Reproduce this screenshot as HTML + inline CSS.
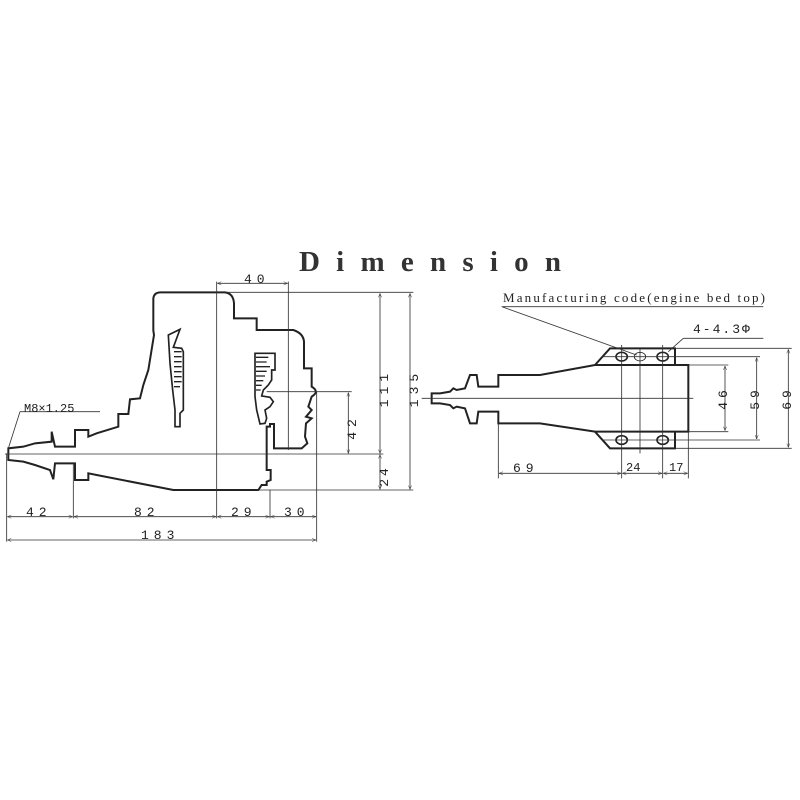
<!DOCTYPE html>
<html><head><meta charset="utf-8"><style>
html,body{margin:0;padding:0;background:#fff}
svg{display:block}
text{font-family:"Liberation Mono",monospace;fill:#222}
</style></head><body>
<svg width="800" height="800" viewBox="0 0 800 800" xmlns="http://www.w3.org/2000/svg">
<defs>
<marker id="a" viewBox="0 0 10 10" refX="10" refY="5" markerWidth="12" markerHeight="12" orient="auto-start-reverse" markerUnits="userSpaceOnUse"><path d="M0,1 L10,5 L0,9" fill="none" stroke="#333" stroke-width="1.2"/></marker>
</defs>
<rect width="800" height="800" fill="#fff"/>
<text x="299" y="271" font-family="Liberation Serif,serif" font-size="29" font-weight="bold" textLength="262" lengthAdjust="spacing" style="font-family:'Liberation Serif',serif;fill:#333">Dimension</text>

<!-- LEFT VIEW -->
<g transform="translate(0,270) scale(0.33333)" fill="none" stroke="#222">
<path stroke-width="6" d="M480,67 L675,67 Q700,70 702,100 L702,145 L770,145 L770,180 L880,180 Q910,190 912,215 L912,295 L935,295 L935,350 Q960,365 935,380 L930,395 L925,410 L935,420 L918,440 L935,445 L918,460 L915,500 L922,520 L905,535 L822,535 L822,462 L810,462 L810,470 L800,470 L800,600 L812,600 L812,630 L800,635 L800,645 L785,645 L775,660 L520,660 L290,615 L265,610 L265,630 L225,630 L225,580 L165,580 L160,628 L150,600 L105,585 L70,575 L25,570 L25,535 L70,530 L105,520 L155,515 L155,485 L165,530 L225,530 L225,480 L265,480 L265,500 L290,490 L355,470 L355,432 L385,432 L390,388 L420,385 L430,345 L445,300 L462,195 L460,182 L460,85 Q462,68 480,67 Z"/>
<path stroke-width="5" d="M505,195 L540,178 L520,232 L545,235 L550,245 L550,420 L540,430 L540,470 L525,470 L525,420 L518,360 L510,280 Z"/>
<path stroke-width="4" d="M522,245 L545,245 M522,260 L545,260 M522,275 L545,275 M522,290 L545,290 M522,305 L545,305 M522,320 L545,320 M522,335 L545,335 M522,350 L540,350" />
<path stroke-width="5" d="M765,250 L825,250 L825,300 L815,300 L815,330 L805,345 L790,360 L785,378 L810,382 L820,395 L810,410 L795,420 L800,445 L795,460 L780,462 L770,420 L765,380 Z"/>
<path stroke-width="4" d="M768,262 L805,262 M768,276 L800,276 M768,290 L810,290 M768,304 L800,304 M768,318 L795,318 M768,332 L790,332 M768,346 L785,346 M768,360 L782,360"/>
<!-- dimension lines -->
<g stroke-width="2.5" stroke="#333">
<path d="M15,552 L1150,552 M680,67 L1240,67 M770,660 L1240,660 M800,365 L1055,365"/>
<path d="M650,35 L650,745 M865,35 L865,540 M20,550 L20,815 M220,580 L220,745 M810,660 L810,745 M950,365 L950,815"/>
<path d="M60,425 L300,425 M60,425 L25,535"/>
<path marker-start="url(#a)" marker-end="url(#a)" d="M652,40 L863,40"/>
<path marker-start="url(#a)" marker-end="url(#a)" d="M1140,70 L1140,550"/>
<path marker-start="url(#a)" marker-end="url(#a)" d="M1230,70 L1230,658"/>
<path marker-start="url(#a)" marker-end="url(#a)" d="M1045,368 L1045,550"/>
<path marker-start="url(#a)" marker-end="url(#a)" d="M1140,554 L1140,658"/>
<path marker-start="url(#a)" marker-end="url(#a)" d="M22,740 L218,740"/>
<path marker-start="url(#a)" marker-end="url(#a)" d="M222,740 L648,740"/>
<path marker-start="url(#a)" marker-end="url(#a)" d="M652,740 L808,740"/>
<path marker-start="url(#a)" marker-end="url(#a)" d="M812,740 L948,740"/>
<path marker-start="url(#a)" marker-end="url(#a)" d="M22,810 L948,810"/>
</g>
</g>
<g font-size="13">
<text x="244" y="283" letter-spacing="5">40</text>
<text x="24" y="412" font-size="12">M8×1.25</text>
<text x="26" y="516" letter-spacing="5">42</text>
<text x="134" y="516" letter-spacing="5">82</text>
<text x="231" y="516" letter-spacing="5">29</text>
<text x="284" y="516" letter-spacing="5">30</text>
<text x="141" y="539" letter-spacing="5">183</text>
<text transform="translate(388,388) rotate(-90)" letter-spacing="5" text-anchor="middle">111</text>
<text transform="translate(418,388) rotate(-90)" letter-spacing="5" text-anchor="middle">135</text>
<text transform="translate(356,427) rotate(-90)" letter-spacing="5" text-anchor="middle">42</text>
<text transform="translate(388,476) rotate(-90)" letter-spacing="3" text-anchor="middle">24</text>
</g>

<!-- RIGHT VIEW -->
<g transform="translate(420,280) scale(0.33333)" fill="none" stroke="#222">
<path stroke-width="6" d="M805,255 L805,455 L525,455 L360,430 L235,430 L235,395 L175,395 L170,430 L150,430 L135,385 L110,380 L100,385 L90,375 L60,370 L35,370 L35,340 L60,340 L90,335 L100,325 L110,330 L135,325 L150,285 L170,285 L175,320 L235,320 L235,285 L360,285 L525,255 Z"/>
<path stroke-width="6" d="M525,255 L570,205 L765,205 L765,255 M525,455 L570,505 L765,505 L765,455"/>
<g stroke-width="5"><ellipse cx="605" cy="230" rx="17" ry="13"/><ellipse cx="728" cy="230" rx="17" ry="13"/><ellipse cx="605" cy="480" rx="17" ry="13"/><ellipse cx="728" cy="480" rx="17" ry="13"/></g>
<ellipse cx="660" cy="230" rx="17" ry="13" stroke-width="2.5"/>
<g stroke-width="2.5" stroke="#333">
<path d="M5,355 L820,355 M545,230 L765,230 M545,480 L765,480 M765,205 L1115,205 M765,230 L1020,230 M805,255 L925,255 M805,455 L925,455 M765,480 L1020,480 M765,505 L1115,505"/>
<path d="M605,195 L605,595 M728,195 L728,595 M660,205 L660,520 M805,455 L805,595 M235,430 L235,595"/>
<path d="M245,80 L1030,80 M245,80 L650,225 M790,175 L1030,175 M790,175 L745,215"/>
<path marker-start="url(#a)" marker-end="url(#a)" d="M915,258 L915,452"/>
<path marker-start="url(#a)" marker-end="url(#a)" d="M1010,233 L1010,477"/>
<path marker-start="url(#a)" marker-end="url(#a)" d="M1105,208 L1105,502"/>
<path marker-start="url(#a)" marker-end="url(#a)" d="M237,580 L603,580"/>
<path marker-start="url(#a)" marker-end="url(#a)" d="M607,580 L726,580"/>
<path marker-start="url(#a)" marker-end="url(#a)" d="M730,580 L803,580"/>
</g>
</g>
<g font-size="12">
<text x="503" y="302" font-family="Liberation Serif,serif" style="font-family:'Liberation Serif',serif" font-size="13" textLength="262">Manufacturing code(engine bed top)</text>
<text x="693" y="333" font-size="13" letter-spacing="2">4-4.3Φ</text>
<text x="513" y="472" font-size="13" letter-spacing="5">69</text>
<text x="626" y="471">24</text>
<text x="669" y="471">17</text>
<text transform="translate(727,398) rotate(-90)" font-size="13" letter-spacing="4" text-anchor="middle">46</text>
<text transform="translate(759,398) rotate(-90)" font-size="13" letter-spacing="4" text-anchor="middle">59</text>
<text transform="translate(791,398) rotate(-90)" font-size="13" letter-spacing="4" text-anchor="middle">69</text>
</g>
</svg>
</body></html>
